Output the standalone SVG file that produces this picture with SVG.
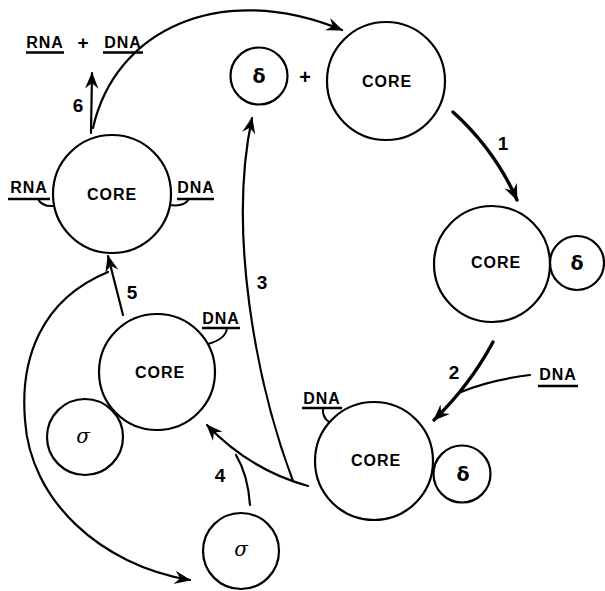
<svg xmlns="http://www.w3.org/2000/svg" width="605" height="591" viewBox="0 0 605 591">
  <style>
    .ring { fill: none; stroke: #000; stroke-width: 2.2; }
    .lbl { font-family: "Liberation Sans", Arial, sans-serif; font-weight: bold; fill: #000; text-anchor: middle; }
    .core { font-size: 16px; letter-spacing: 1px; }
    .na { font-size: 16px; letter-spacing: 1px; }
    .num { font-size: 19px; }
    .greek { font-family: "DejaVu Sans", "Liberation Sans", sans-serif; font-weight: bold; font-size: 19px; fill: #000; text-anchor: middle; }
    .sigma { font-family: "DejaVu Serif", "Liberation Serif", serif; font-style: italic; font-weight: normal; font-size: 20px; }
    .ul { stroke: #000; stroke-width: 2.4; fill: none; }
    .hook { stroke: #000; stroke-width: 2; fill: none; }
    .wire { fill: none; stroke: #000; stroke-width: 2.2; stroke-linecap: round; }
    .heavy { stroke-width: 3.4; }
  </style>
  <defs>
    <marker id="head" markerUnits="userSpaceOnUse" markerWidth="20" markerHeight="20" refX="0" refY="0" viewBox="-16 -8 18 16" orient="auto">
      <path d="M1,0 L-14,-6 L-9,0 L-14,6 Z" fill="#000"/>
    </marker>
  </defs>

  <!-- free products: RNA + DNA -->
  <g id="products">
    <text class="lbl na" x="45" y="48">RNA</text>
    <line class="ul" x1="26" y1="52.5" x2="64" y2="52.5"/>
    <text class="lbl" x="83" y="49" font-size="19">+</text>
    <text class="lbl na" x="123" y="48">DNA</text>
    <line class="ul" x1="103" y1="52.5" x2="143" y2="52.5"/>
  </g>

  <!-- free delta subunit + core -->
  <g id="free-delta">
    <circle class="ring" cx="259" cy="76" r="28.5"/>
    <text class="greek" x="259" y="83">δ</text>
  </g>
  <text class="lbl" x="305" y="84" font-size="20">+</text>
  <g id="free-core">
    <circle class="ring" cx="386" cy="81" r="59"/>
    <text class="lbl core" x="387" y="87">CORE</text>
  </g>

  <!-- core with delta bound -->
  <g id="core-delta">
    <circle class="ring" cx="492" cy="264" r="58"/>
    <text class="lbl core" x="496" y="268">CORE</text>
    <circle class="ring" cx="577" cy="263" r="27"/>
    <text class="greek" x="577" y="270">δ</text>
  </g>

  <!-- incoming DNA -->
  <g id="dna-in">
    <text class="lbl na" x="558" y="380">DNA</text>
    <line class="ul" x1="538" y1="386" x2="578" y2="386"/>
  </g>

  <!-- core with delta bound to DNA -->
  <g id="core-delta-dna">
    <circle class="ring" cx="374" cy="461" r="59"/>
    <text class="lbl core" x="376" y="466">CORE</text>
    <circle class="ring" cx="462" cy="474" r="28.5"/>
    <text class="greek" x="463" y="481">δ</text>
    <text class="lbl na" x="322" y="404">DNA</text>
    <line class="ul" x1="302" y1="408" x2="342" y2="408"/>
    <path class="hook" d="M323,408 Q322,417 329,422"/>
  </g>

  <!-- free sigma -->
  <g id="free-sigma">
    <circle class="ring" cx="241" cy="551" r="38"/>
    <text class="greek sigma" x="241" y="556">σ</text>
  </g>

  <!-- core with sigma on DNA -->
  <g id="core-sigma-dna">
    <circle class="ring" cx="157" cy="372" r="58"/>
    <text class="lbl core" x="160" y="378">CORE</text>
    <circle class="ring" cx="85" cy="437" r="38"/>
    <text class="greek sigma" x="83" y="443">σ</text>
    <text class="lbl na" x="221" y="324">DNA</text>
    <line class="ul" x1="202" y1="328" x2="240" y2="328"/>
    <path class="hook" d="M227,328 Q226,339 208,344"/>
  </g>

  <!-- elongating core with RNA and DNA -->
  <g id="core-rna-dna">
    <circle class="ring" cx="112" cy="194" r="59"/>
    <text class="lbl core" x="112" y="200">CORE</text>
    <text class="lbl na" x="29" y="193">RNA</text>
    <line class="ul" x1="8" y1="199" x2="50" y2="199"/>
    <path class="hook" d="M38,199 Q42,207 54,206"/>
    <text class="lbl na" x="196" y="193">DNA</text>
    <line class="ul" x1="177" y1="199" x2="214" y2="199"/>
    <path class="hook" d="M170,205 Q184,207 189,199"/>
  </g>

  <!-- reaction arrows -->
  <g id="connectors">
    <path class="wire heavy" d="M453,112 Q495,150 517,200" marker-end="url(#head)"/>
    <path class="wire heavy" d="M493,342 Q470,385 434,420" marker-end="url(#head)"/>
    <path class="wire" d="M530,375 Q490,380 461,392"/>
    <path class="wire" d="M293,481 C255,380 228,230 252,118" marker-end="url(#head)"/>
    <path class="wire" d="M308,486 Q250,470 207,425" marker-end="url(#head)"/>
    <path class="wire" d="M250,505 Q248,475 236,455"/>
    <path class="wire" d="M123,315 L108,256" marker-end="url(#head)"/>
    <path class="wire" d="M108,272 C40,300 20,360 25,420 C30,500 100,565 190,580" marker-end="url(#head)"/>
    <path class="wire" d="M91,133 L92,73" marker-end="url(#head)"/>
    <path class="wire" d="M93,128 C115,30 220,-20 342,30" marker-end="url(#head)"/>
  </g>

  <!-- step numbers -->
  <g id="steps">
    <text class="lbl num" x="503" y="150">1</text>
    <text class="lbl num" x="454" y="379">2</text>
    <text class="lbl num" x="262" y="289">3</text>
    <text class="lbl num" x="220" y="482">4</text>
    <text class="lbl num" x="132" y="299">5</text>
    <text class="lbl num" x="78" y="112">6</text>
  </g>
</svg>
